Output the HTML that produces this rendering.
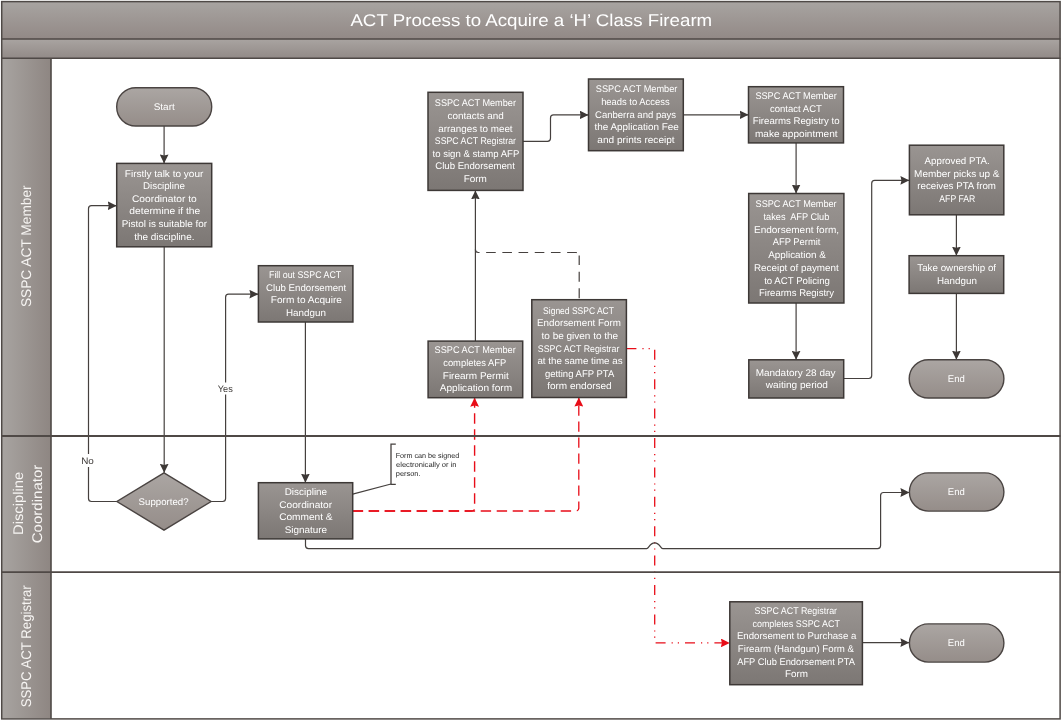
<!DOCTYPE html><html><head><meta charset="utf-8"><style>html,body{margin:0;padding:0;background:#fff;}svg{display:block;will-change:transform;}text{text-rendering:geometricPrecision;font-family:"Liberation Sans", sans-serif;}</style></head><body>
<svg width="1062" height="720" viewBox="0 0 1062 720">
<defs>
<linearGradient id="gTitle" x1="0" y1="0" x2="0" y2="1"><stop offset="0" stop-color="#a8a4a1"/><stop offset="1" stop-color="#928986"/></linearGradient>
<linearGradient id="gBar2" x1="0" y1="0" x2="0" y2="1"><stop offset="0" stop-color="#a9a4a1"/><stop offset="1" stop-color="#928a87"/></linearGradient>
<linearGradient id="gLane" x1="0" y1="0" x2="1" y2="0"><stop offset="0" stop-color="#a8a4a1"/><stop offset="1" stop-color="#8e8682"/></linearGradient>
<linearGradient id="gBox" x1="0" y1="0" x2="0" y2="1"><stop offset="0" stop-color="#9a9592"/><stop offset="1" stop-color="#7c7774"/></linearGradient>
<linearGradient id="gTerm" x1="0" y1="0" x2="0" y2="1"><stop offset="0" stop-color="#aba6a3"/><stop offset="1" stop-color="#958d89"/></linearGradient>
<marker id="ah" viewBox="0 0 10 10" refX="10" refY="5" markerWidth="9" markerHeight="8.8" markerUnits="userSpaceOnUse" orient="auto" preserveAspectRatio="none"><path d="M0,0 L10,5 L0,10 L1.2,5 z" fill="#3d3836"/></marker>
<marker id="ahr" viewBox="0 0 10 10" refX="10" refY="5" markerWidth="9" markerHeight="8.8" markerUnits="userSpaceOnUse" orient="auto" preserveAspectRatio="none"><path d="M0,0 L10,5 L0,10 L1.2,5 z" fill="#e80d18"/></marker>
</defs>
<rect x="0" y="0" width="1062" height="720" fill="#fff"/>
<rect x="1.5" y="1.5" width="1058.5" height="37.5" fill="url(#gTitle)"/>
<rect x="1.5" y="39" width="1058.5" height="19.3" fill="url(#gBar2)"/>
<rect x="1.5" y="58.3" width="49.5" height="660" fill="url(#gLane)"/>
<text x="350.40" y="26.4" font-size="17" fill="#ffffff" textLength="361.81" lengthAdjust="spacingAndGlyphs" xml:space="preserve">ACT Process to Acquire a ‘H’ Class Firearm</text>
<text transform="translate(30.6,306.5) rotate(-90)" x="-0.62" y="0" font-size="14" fill="#f7f5f3" textLength="121.77" lengthAdjust="spacingAndGlyphs">SSPC ACT Member</text>
<text transform="translate(23.0,533.8) rotate(-90)" x="-1.18" y="0" font-size="14" fill="#f7f5f3" textLength="63.14" lengthAdjust="spacingAndGlyphs">Discipline</text>
<text transform="translate(41.8,542.5) rotate(-90)" x="-0.75" y="0" font-size="14" fill="#f7f5f3" textLength="78.56" lengthAdjust="spacingAndGlyphs">Coordinator</text>
<text transform="translate(30.8,706.7) rotate(-90)" x="-0.59" y="0" font-size="14" fill="#f7f5f3" textLength="122.02" lengthAdjust="spacingAndGlyphs">SSPC ACT Registrar</text>
<path d="M352.7,511 H471.6 Q474.6,511 474.6,508 V397.7" fill="none" stroke="#e80d18" stroke-width="1.4" stroke-dasharray="10.4,5.6" marker-end="url(#ahr)"/>
<path d="M352.7,511 H575.8 Q578.8,511 578.8,508 V397.5" fill="none" stroke="#e80d18" stroke-width="1.3" stroke-dasharray="10.4,5.6" marker-end="url(#ahr)"/>
<path d="M626.4,348.7 H654.7 V642.9 H729.8" fill="none" stroke="#e80d18" stroke-width="1.3" stroke-dasharray="10,6,1.2,5,1.2,6" marker-end="url(#ahr)"/>
<path d="M164.1,126.0 V163.4" fill="none" stroke="#45403e" stroke-width="1.2" marker-end="url(#ah)"/>
<path d="M164.2,246.8 V472.8" fill="none" stroke="#45403e" stroke-width="1.2" marker-end="url(#ah)"/>
<path d="M116.9,501.5 H91.5 Q88.5,501.5 88.5,498.5 V208.7 Q88.5,205.7 91.5,205.7 H116.7" fill="none" stroke="#45403e" stroke-width="1.2" marker-end="url(#ah)"/>
<path d="M211.1,501.5 H222.6 Q225.6,501.5 225.6,498.5 V297.2 Q225.6,294.2 228.6,294.2 H258.4" fill="none" stroke="#45403e" stroke-width="1.2" marker-end="url(#ah)"/>
<path d="M305.4,322.0 V482.7" fill="none" stroke="#45403e" stroke-width="1.2" marker-end="url(#ah)"/>
<path d="M352.7,494.2 L391,484" fill="none" stroke="#45403e" stroke-width="1.2"/>
<path d="M395.8,444.2 H391 V484.3 H395.8" fill="none" stroke="#45403e" stroke-width="1.3"/>
<path d="M475.4,341.1 V190.4" fill="none" stroke="#45403e" stroke-width="1.2" marker-end="url(#ah)"/>
<path d="M579.2,298.3 V255.5" fill="none" stroke="#45403e" stroke-width="1.2" stroke-dasharray="10,6.6"/>
<path d="M579.2,255.5 Q579.2,252.5 576.2,252.5 H478.4 Q475.4,252.5 475.4,249.5" fill="none" stroke="#45403e" stroke-width="1.2" stroke-dasharray="9.6,6.6" stroke-dashoffset="-4.2"/>
<path d="M523,141.3 H547.5 Q550.5,141.3 550.5,138.3 V117.9 Q550.5,114.9 553.5,114.9 H588.5" fill="none" stroke="#45403e" stroke-width="1.2" marker-end="url(#ah)"/>
<path d="M683.3,114.8 H748.5" fill="none" stroke="#45403e" stroke-width="1.2" marker-end="url(#ah)"/>
<path d="M796.1,142.9 V193.5" fill="none" stroke="#45403e" stroke-width="1.2" marker-end="url(#ah)"/>
<path d="M796.1,303.0 V359.8" fill="none" stroke="#45403e" stroke-width="1.2" marker-end="url(#ah)"/>
<path d="M843.7,378.5 H868.7 Q871.7,378.5 871.7,375.5 V183.4 Q871.7,180.4 874.7,180.4 H909.4" fill="none" stroke="#45403e" stroke-width="1.2" marker-end="url(#ah)"/>
<path d="M956.4,214.8 V255.7" fill="none" stroke="#45403e" stroke-width="1.2" marker-end="url(#ah)"/>
<path d="M956.4,293.4 V359.7" fill="none" stroke="#45403e" stroke-width="1.2" marker-end="url(#ah)"/>
<path d="M305.5,538.9 V545.6 Q305.5,548.6 308.5,548.6 H646.7 C649,548.6 649.4,542.8 654.7,542.8 C660,542.8 660.4,548.6 662.7,548.6 H877.6 Q880.6,548.6 880.6,545.6 V495.5 Q880.6,492.5 883.6,492.5 H909.4" fill="none" stroke="#45403e" stroke-width="1.2" marker-end="url(#ah)"/>
<path d="M862.4,642.6 H909.4" fill="none" stroke="#45403e" stroke-width="1.2" marker-end="url(#ah)"/>
<g stroke="#4f4946" fill="none">
<line x1="1" y1="39" x2="1060.5" y2="39" stroke-width="1.6"/>
<line x1="1" y1="58.2" x2="1060.5" y2="58.2" stroke-width="1.6"/>
<line x1="1" y1="436" x2="1060.5" y2="436" stroke-width="1.8"/>
<line x1="1" y1="572.2" x2="1060.5" y2="572.2" stroke-width="1.8"/>
<line x1="51" y1="58" x2="51" y2="719" stroke-width="1.6"/>
<rect x="1.7" y="1.6" width="1058.4" height="717.3" stroke-width="1.5"/>
</g>
<rect x="80" y="454" width="16" height="13" fill="#fff"/>
<rect x="216" y="382.5" width="19" height="12" fill="#fff"/>
<text x="81.21" y="463.9" font-size="9.5" fill="#3f3b39" textLength="12.62" lengthAdjust="spacingAndGlyphs" xml:space="preserve">No</text>
<text x="217.77" y="391.7" font-size="9.5" fill="#3f3b39" textLength="15.07" lengthAdjust="spacingAndGlyphs" xml:space="preserve">Yes</text>
<text x="395.72" y="458.0" font-size="7.2" fill="#262626" textLength="63.57" lengthAdjust="spacingAndGlyphs" xml:space="preserve">Form can be signed</text>
<text x="396.00" y="467.0" font-size="7.2" fill="#262626" textLength="60.58" lengthAdjust="spacingAndGlyphs" xml:space="preserve">electronically or in</text>
<text x="395.82" y="476.2" font-size="7.2" fill="#262626" textLength="24.75" lengthAdjust="spacingAndGlyphs" xml:space="preserve">person.</text>
<rect x="116.7" y="163.4" width="95.0" height="83.4" fill="url(#gBox)" stroke="#3d3836" stroke-width="1.5"/>
<text x="124.80" y="176.5" font-size="9.7" fill="#ffffff" textLength="78.50" lengthAdjust="spacingAndGlyphs" xml:space="preserve">Firstly talk to your</text>
<text x="143.02" y="189.0" font-size="9.7" fill="#ffffff" textLength="41.82" lengthAdjust="spacingAndGlyphs" xml:space="preserve">Discipline</text>
<text x="131.99" y="201.6" font-size="9.7" fill="#ffffff" textLength="64.74" lengthAdjust="spacingAndGlyphs" xml:space="preserve">Coordinator to</text>
<text x="129.39" y="214.3" font-size="9.7" fill="#ffffff" textLength="70.90" lengthAdjust="spacingAndGlyphs" xml:space="preserve">determine if the</text>
<text x="121.71" y="227.0" font-size="9.7" fill="#ffffff" textLength="85.39" lengthAdjust="spacingAndGlyphs" xml:space="preserve">Pistol is suitable for</text>
<text x="134.25" y="239.7" font-size="9.7" fill="#ffffff" textLength="60.18" lengthAdjust="spacingAndGlyphs" xml:space="preserve">the discipline.</text>
<rect x="258.4" y="265.7" width="94.5" height="56.3" fill="url(#gBox)" stroke="#3d3836" stroke-width="1.5"/>
<text x="268.99" y="277.9" font-size="9.7" fill="#ffffff" textLength="72.18" lengthAdjust="spacingAndGlyphs" xml:space="preserve">Fill out SSPC ACT</text>
<text x="266.02" y="290.6" font-size="9.7" fill="#ffffff" textLength="80.16" lengthAdjust="spacingAndGlyphs" xml:space="preserve">Club Endorsement</text>
<text x="270.79" y="303.3" font-size="9.7" fill="#ffffff" textLength="71.09" lengthAdjust="spacingAndGlyphs" xml:space="preserve">Form to Acquire</text>
<text x="286.01" y="315.8" font-size="9.7" fill="#ffffff" textLength="39.92" lengthAdjust="spacingAndGlyphs" xml:space="preserve">Handgun</text>
<rect x="258.4" y="482.7" width="94.3" height="56.2" fill="url(#gBox)" stroke="#3d3836" stroke-width="1.5"/>
<text x="284.71" y="494.8" font-size="9.7" fill="#ffffff" textLength="42.43" lengthAdjust="spacingAndGlyphs" xml:space="preserve">Discipline</text>
<text x="279.19" y="507.6" font-size="9.7" fill="#ffffff" textLength="52.91" lengthAdjust="spacingAndGlyphs" xml:space="preserve">Coordinator</text>
<text x="279.19" y="520.4" font-size="9.7" fill="#ffffff" textLength="53.40" lengthAdjust="spacingAndGlyphs" xml:space="preserve">Comment &amp;</text>
<text x="284.65" y="532.5" font-size="9.7" fill="#ffffff" textLength="42.50" lengthAdjust="spacingAndGlyphs" xml:space="preserve">Signature</text>
<rect x="428.1" y="341.1" width="94.6" height="56.6" fill="url(#gBox)" stroke="#3d3836" stroke-width="1.5"/>
<text x="434.59" y="352.9" font-size="9.7" fill="#ffffff" textLength="81.18" lengthAdjust="spacingAndGlyphs" xml:space="preserve">SSPC ACT Member</text>
<text x="443.23" y="365.6" font-size="9.7" fill="#ffffff" textLength="63.05" lengthAdjust="spacingAndGlyphs" xml:space="preserve">completes AFP</text>
<text x="442.80" y="378.5" font-size="9.7" fill="#ffffff" textLength="65.96" lengthAdjust="spacingAndGlyphs" xml:space="preserve">Firearm Permit</text>
<text x="439.70" y="391.2" font-size="9.7" fill="#ffffff" textLength="72.36" lengthAdjust="spacingAndGlyphs" xml:space="preserve">Application form</text>
<rect x="531.8" y="299.7" width="94.6" height="97.8" fill="url(#gBox)" stroke="#3d3836" stroke-width="1.5"/>
<text x="543.12" y="313.8" font-size="9.7" fill="#ffffff" textLength="70.77" lengthAdjust="spacingAndGlyphs" xml:space="preserve">Signed SSPC ACT</text>
<text x="537.02" y="326.3" font-size="9.7" fill="#ffffff" textLength="83.91" lengthAdjust="spacingAndGlyphs" xml:space="preserve">Endorsement Form</text>
<text x="541.55" y="338.9" font-size="9.7" fill="#ffffff" textLength="76.62" lengthAdjust="spacingAndGlyphs" xml:space="preserve">to be given to the</text>
<text x="537.80" y="351.6" font-size="9.7" fill="#ffffff" textLength="81.55" lengthAdjust="spacingAndGlyphs" xml:space="preserve">SSPC ACT Registrar</text>
<text x="537.41" y="364.3" font-size="9.7" fill="#ffffff" textLength="85.14" lengthAdjust="spacingAndGlyphs" xml:space="preserve">at the same time as</text>
<text x="544.92" y="376.9" font-size="9.7" fill="#ffffff" textLength="69.39" lengthAdjust="spacingAndGlyphs" xml:space="preserve">getting AFP PTA</text>
<text x="547.15" y="389.4" font-size="9.7" fill="#ffffff" textLength="64.53" lengthAdjust="spacingAndGlyphs" xml:space="preserve">form endorsed</text>
<rect x="428.0" y="92.3" width="95.0" height="98.1" fill="url(#gBox)" stroke="#3d3836" stroke-width="1.5"/>
<text x="434.79" y="106.2" font-size="9.7" fill="#ffffff" textLength="81.18" lengthAdjust="spacingAndGlyphs" xml:space="preserve">SSPC ACT Member</text>
<text x="447.60" y="118.9" font-size="9.7" fill="#ffffff" textLength="56.25" lengthAdjust="spacingAndGlyphs" xml:space="preserve">contacts and</text>
<text x="438.31" y="131.6" font-size="9.7" fill="#ffffff" textLength="74.29" lengthAdjust="spacingAndGlyphs" xml:space="preserve">arranges to meet</text>
<text x="434.81" y="144.0" font-size="9.7" fill="#ffffff" textLength="81.15" lengthAdjust="spacingAndGlyphs" xml:space="preserve">SSPC ACT Registrar</text>
<text x="432.56" y="156.7" font-size="9.7" fill="#ffffff" textLength="86.72" lengthAdjust="spacingAndGlyphs" xml:space="preserve">to sign &amp; stamp AFP</text>
<text x="435.22" y="169.4" font-size="9.7" fill="#ffffff" textLength="79.65" lengthAdjust="spacingAndGlyphs" xml:space="preserve">Club Endorsement</text>
<text x="463.70" y="182.1" font-size="9.7" fill="#ffffff" textLength="23.22" lengthAdjust="spacingAndGlyphs" xml:space="preserve">Form</text>
<rect x="588.5" y="79.0" width="94.8" height="71.7" fill="url(#gBox)" stroke="#3d3836" stroke-width="1.5"/>
<text x="595.79" y="92.0" font-size="9.7" fill="#ffffff" textLength="81.58" lengthAdjust="spacingAndGlyphs" xml:space="preserve">SSPC ACT Member</text>
<text x="601.14" y="104.7" font-size="9.7" fill="#ffffff" textLength="68.51" lengthAdjust="spacingAndGlyphs" xml:space="preserve">heads to Access</text>
<text x="595.02" y="117.5" font-size="9.7" fill="#ffffff" textLength="81.02" lengthAdjust="spacingAndGlyphs" xml:space="preserve">Canberra and pays</text>
<text x="594.55" y="130.2" font-size="9.7" fill="#ffffff" textLength="84.20" lengthAdjust="spacingAndGlyphs" xml:space="preserve">the Application Fee</text>
<text x="597.30" y="142.9" font-size="9.7" fill="#ffffff" textLength="77.36" lengthAdjust="spacingAndGlyphs" xml:space="preserve">and prints receipt</text>
<rect x="748.5" y="86.7" width="95.0" height="56.2" fill="url(#gBox)" stroke="#3d3836" stroke-width="1.5"/>
<text x="755.39" y="99.1" font-size="9.7" fill="#ffffff" textLength="81.38" lengthAdjust="spacingAndGlyphs" xml:space="preserve">SSPC ACT Member</text>
<text x="770.02" y="111.7" font-size="9.7" fill="#ffffff" textLength="51.79" lengthAdjust="spacingAndGlyphs" xml:space="preserve">contact ACT</text>
<text x="752.83" y="124.2" font-size="9.7" fill="#ffffff" textLength="86.77" lengthAdjust="spacingAndGlyphs" xml:space="preserve">Firearms Registry to</text>
<text x="754.95" y="136.6" font-size="9.7" fill="#ffffff" textLength="82.63" lengthAdjust="spacingAndGlyphs" xml:space="preserve">make appointment</text>
<rect x="748.7" y="193.5" width="95.2" height="109.5" fill="url(#gBox)" stroke="#3d3836" stroke-width="1.5"/>
<text x="755.59" y="206.9" font-size="9.7" fill="#ffffff" textLength="81.08" lengthAdjust="spacingAndGlyphs" xml:space="preserve">SSPC ACT Member</text>
<text x="763.56" y="219.7" font-size="9.7" fill="#ffffff" textLength="65.82" lengthAdjust="spacingAndGlyphs" xml:space="preserve">takes  AFP Club</text>
<text x="754.00" y="232.5" font-size="9.7" fill="#ffffff" textLength="85.09" lengthAdjust="spacingAndGlyphs" xml:space="preserve">Endorsement form,</text>
<text x="772.70" y="245.3" font-size="9.7" fill="#ffffff" textLength="47.68" lengthAdjust="spacingAndGlyphs" xml:space="preserve">AFP Permit</text>
<text x="768.20" y="258.0" font-size="9.7" fill="#ffffff" textLength="57.67" lengthAdjust="spacingAndGlyphs" xml:space="preserve">Application &amp;</text>
<text x="754.01" y="270.8" font-size="9.7" fill="#ffffff" textLength="84.74" lengthAdjust="spacingAndGlyphs" xml:space="preserve">Receipt of payment</text>
<text x="764.16" y="283.6" font-size="9.7" fill="#ffffff" textLength="65.81" lengthAdjust="spacingAndGlyphs" xml:space="preserve">to ACT Policing</text>
<text x="759.04" y="296.3" font-size="9.7" fill="#ffffff" textLength="74.96" lengthAdjust="spacingAndGlyphs" xml:space="preserve">Firearms Registry</text>
<rect x="748.8" y="359.8" width="94.9" height="38.2" fill="url(#gBox)" stroke="#3d3836" stroke-width="1.5"/>
<text x="755.70" y="376.0" font-size="9.7" fill="#ffffff" textLength="79.80" lengthAdjust="spacingAndGlyphs" xml:space="preserve">Mandatory 28 day</text>
<text x="765.80" y="388.3" font-size="9.7" fill="#ffffff" textLength="62.16" lengthAdjust="spacingAndGlyphs" xml:space="preserve">waiting period</text>
<rect x="909.4" y="145.2" width="94.4" height="69.6" fill="url(#gBox)" stroke="#3d3836" stroke-width="1.5"/>
<text x="924.60" y="164.0" font-size="9.7" fill="#ffffff" textLength="65.20" lengthAdjust="spacingAndGlyphs" xml:space="preserve">Approved PTA.</text>
<text x="914.10" y="176.7" font-size="9.7" fill="#ffffff" textLength="85.39" lengthAdjust="spacingAndGlyphs" xml:space="preserve">Member picks up &amp;</text>
<text x="917.27" y="189.4" font-size="9.7" fill="#ffffff" textLength="78.66" lengthAdjust="spacingAndGlyphs" xml:space="preserve">receives PTA from</text>
<text x="939.30" y="202.3" font-size="9.7" fill="#ffffff" textLength="36.03" lengthAdjust="spacingAndGlyphs" xml:space="preserve">AFP FAR</text>
<rect x="909.1" y="255.7" width="94.6" height="37.7" fill="url(#gBox)" stroke="#3d3836" stroke-width="1.5"/>
<text x="917.30" y="270.8" font-size="9.7" fill="#ffffff" textLength="78.80" lengthAdjust="spacingAndGlyphs" xml:space="preserve">Take ownership of</text>
<text x="937.01" y="283.5" font-size="9.7" fill="#ffffff" textLength="39.92" lengthAdjust="spacingAndGlyphs" xml:space="preserve">Handgun</text>
<rect x="729.8" y="601.8" width="132.6" height="82.9" fill="url(#gBox)" stroke="#3d3836" stroke-width="1.5"/>
<text x="754.60" y="613.8" font-size="9.7" fill="#ffffff" textLength="82.46" lengthAdjust="spacingAndGlyphs" xml:space="preserve">SSPC ACT Registrar</text>
<text x="752.44" y="626.5" font-size="9.7" fill="#ffffff" textLength="87.55" lengthAdjust="spacingAndGlyphs" xml:space="preserve">completes SSPC ACT</text>
<text x="736.93" y="639.2" font-size="9.7" fill="#ffffff" textLength="119.38" lengthAdjust="spacingAndGlyphs" xml:space="preserve">Endorsement to Purchase a</text>
<text x="737.83" y="651.9" font-size="9.7" fill="#ffffff" textLength="116.25" lengthAdjust="spacingAndGlyphs" xml:space="preserve">Firearm (Handgun) Form &amp;</text>
<text x="737.20" y="664.6" font-size="9.7" fill="#ffffff" textLength="117.71" lengthAdjust="spacingAndGlyphs" xml:space="preserve">AFP Club Endorsement PTA</text>
<text x="784.91" y="677.3" font-size="9.7" fill="#ffffff" textLength="23.01" lengthAdjust="spacingAndGlyphs" xml:space="preserve">Form</text>
<rect x="116.7" y="87.7" width="95.0" height="38.3" rx="19.1" ry="19.1" fill="url(#gTerm)" stroke="#4a4442" stroke-width="1.4"/>
<text x="153.65" y="109.9" font-size="9.7" fill="#ffffff" textLength="21.12" lengthAdjust="spacingAndGlyphs" xml:space="preserve">Start</text>
<rect x="909.2" y="359.7" width="94.7" height="38.3" rx="19.2" ry="19.2" fill="url(#gTerm)" stroke="#4a4442" stroke-width="1.4"/>
<text x="947.84" y="381.6" font-size="9.7" fill="#ffffff" textLength="16.98" lengthAdjust="spacingAndGlyphs" xml:space="preserve">End</text>
<rect x="909.4" y="472.9" width="94.5" height="38.2" rx="19.1" ry="19.1" fill="url(#gTerm)" stroke="#4a4442" stroke-width="1.4"/>
<text x="947.84" y="494.7" font-size="9.7" fill="#ffffff" textLength="16.98" lengthAdjust="spacingAndGlyphs" xml:space="preserve">End</text>
<rect x="909.4" y="623.9" width="94.5" height="38.2" rx="19.1" ry="19.1" fill="url(#gTerm)" stroke="#4a4442" stroke-width="1.4"/>
<text x="947.84" y="645.7" font-size="9.7" fill="#ffffff" textLength="16.98" lengthAdjust="spacingAndGlyphs" xml:space="preserve">End</text>
<path d="M164,472.8 L211.1,501.5 L164,530.1 L116.9,501.5 Z" fill="url(#gTerm)" stroke="#4a4442" stroke-width="1.4"/>
<text x="138.57" y="504.9" font-size="9.7" fill="#ffffff" textLength="49.98" lengthAdjust="spacingAndGlyphs" xml:space="preserve">Supported?</text>
</svg></body></html>
